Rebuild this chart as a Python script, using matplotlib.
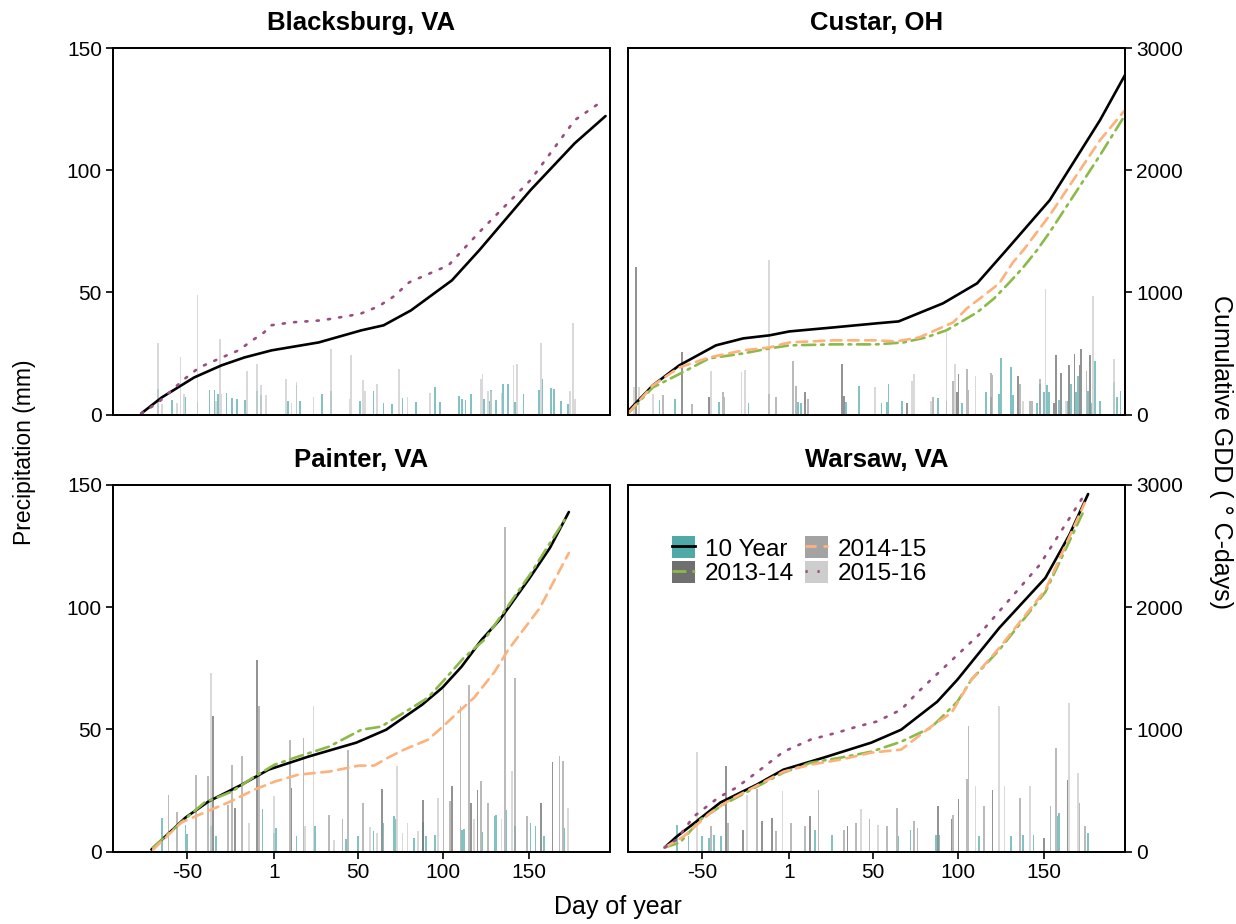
import matplotlib
matplotlib.use("Agg")
import matplotlib.pyplot as plt
from matplotlib.patches import Patch
from matplotlib.lines import Line2D

plt.rcParams['font.family'] = ['Liberation Sans', 'DejaVu Sans']
plt.rcParams['axes.unicode_minus'] = False

# ---------------- data ----------------
series_names = ["10 Year", "2013-14", "2014-15", "2015-16"]
bar_colors = {"10 Year": "#4fa9a8", "2013-14": "#6f6f6f", "2014-15": "#a3a3a3", "2015-16": "#cdcdcd"}
line_colors = {"10 Year": "#000000", "2013-14": "#8bba48", "2014-15": "#fdb27c", "2015-16": "#9a4d80"}
line_styles = {"10 Year": "-", "2013-14": (0, (5, 2.2, 1, 2.2)), "2014-15": (0, (4, 2.5)), "2015-16": (0, (0.8, 3.5))}

x_ticks = [-50, 1, 50, 100, 150]
precip_ticks = [0, 50, 100, 150]
gdd_ticks = [0, 1000, 2000, 3000]

# Blacksburg, VA  - cumulative GDD
bb_10yr_day = [-77, -65, -46, -30, -16.5, -0.6, 27, 52, 65, 81, 105, 121, 151, 177, 195]
bb_10yr_gdd = [8, 139, 303, 402, 467, 525, 590, 689, 730, 852, 1098, 1344, 1836, 2221, 2443]
bb_1516_day = [-77, -67, -52, -43, -31, -20, -11, -5, -1, 11, 29, 46, 52, 62, 71, 80, 103, 121, 151, 177, 194]
bb_1516_gdd = [8, 98, 287, 385, 459, 525, 615, 672, 730, 754, 771, 811, 828, 885, 967, 1082, 1221, 1492, 1918, 2410, 2574]
# Blacksburg precipitation
bb_p10_day = [-67, -59, -51, -44, -37, -34, -32, -27, -24, -21, -16, -9, -7, 9, 14, 16, 29, 34, 51, 59,
              65, 70, 76, 84, 95, 98, 109, 111, 113, 116, 124, 127, 128, 131, 135, 138, 142, 147, 156, 158,
              163, 165, 169, 173]
bb_p10_mm = [10.5, 6.1, 7.1, 5.0, 10.2, 10.2, 8.5, 8.7, 6.8, 6.4, 6.1, 9.8, 7.8, 5.5, 11.9, 5.5, 8.2, 9.8, 5.5, 9.8,
             4.6, 4.4, 6.8, 5.0, 11.2, 5.0, 7.5, 6.4, 6.1, 8.5, 6.4, 5.5, 10.2, 6.0, 12.3, 12.3, 5.0, 8.5, 10.2, 14.6,
             10.9, 10.5, 5.7, 4.4]
bb_p1516_day = [-67, -65, -56, -54, -52, -44, -33, -31, -30, -15, -9, -7, -4, 8, 11, 14, 24, 34, 46, 45,
                53, 54, 61, 74, 79, 92, 122, 123, 126, 128, 134, 141, 143, 157, 174, 176, 177]
bb_p1516_mm = [29.2, 4.4, 4.6, 23.5, 8.5, 48.8, 5.7, 31.0, 8.5, 18.0, 20.8, 11.9, 7.8, 14.6, 4.6, 13.2, 7.1, 26.9, 24.2, 6.4,
               14.2, 9.8, 12.6, 18.7, 7.1, 8.7, 14.6, 16.7, 9.8, 9.8, 8.7, 20.1, 20.8, 29.2, 9.6, 37.4, 6.4]

# Custar, OH - cumulative GDD
cu_10yr_day = [-93, -79, -63.5, -42, -26, -10.6, 1, 27, 52, 65, 91, 111, 128, 153.5, 183, 197.6]
cu_10yr_gdd = [33, 238, 402, 566, 623, 648, 680, 713, 746, 762, 910, 1074, 1344, 1754, 2410, 2779]
cu_1314_day = [-93, -79, -65, -46, -26, -10.6, 1, 27, 52, 68, 81, 93, 101, 111, 121, 130, 138, 146, 153.5, 183, 197.6]
cu_1314_gdd = [16, 221, 320, 459, 500, 541, 566, 574, 574, 590, 631, 689, 754, 836, 951, 1082, 1205, 1344, 1492, 2123, 2451]
cu_1415_day = [-93, -79, -63.5, -46, -26, -10.6, 1, 27, 52, 63.5, 77, 85, 97, 105, 115, 124, 132, 138, 153.5, 183, 197.6]
cu_1415_gdd = [16, 238, 385, 467, 525, 549, 590, 607, 607, 598, 631, 680, 754, 869, 975, 1074, 1246, 1344, 1631, 2246, 2492]
# Custar precipitation
cu_p10_day = [-75, -66, -40, -23, 6, 8, 34, 42, 55, 58, 59, 67, 88, 102, 116, 119, 124, 125, 131, 132,
              146, 148, 150, 152, 153, 159, 164, 166, 169, 170, 176, 178, 180, 183, 191, 193, 195]
cu_p10_mm = [6.0, 6.4, 5.0, 4.6, 5.0, 4.6, 5.0, 11.5, 4.6, 5.0, 12.3, 5.5, 6.8, 4.6, 9.1, 7.1, 8.2, 23.2, 19.4, 7.8,
             4.6, 12.6, 9.1, 11.9, 9.1, 6.0, 5.5, 12.6, 9.1, 15.6, 9.8, 4.6, 22.1, 5.5, 13.2, 7.1, 9.8]
cu_p1314_day = [-89, -62, -46, -11, 10, 32, 33, 70, 93, 99, 100, 135, 156, 157, 160, 165, 168, 171, 172, 177]
cu_p1314_mm = [60.4, 25.5, 7.1, 8.2, 9.1, 20.8, 7.4, 4.6, 5.7, 9.1, 16.4, 15.6, 4.6, 24.2, 16.9, 20.1, 24.9, 20.1, 26.9, 24.2]
cu_p1415_day = [-73, -56, -38, -37, -7, 3, 5, 12, 85, 97, 105, 106, 119, 120, 136, 142, 143, 148, 175]
cu_p1415_mm = [7.8, 4.4, 9.1, 7.1, 7.1, 22.1, 11.5, 6.4, 7.1, 13.6, 18.7, 10.1, 16.9, 16.0, 12.6, 5.7, 5.5, 14.6, 18.0]
cu_p1516_day = [-90, -87, -79, -45, -27, -25, -11, 51, 73, 74, 84, 93, 98, 110, 138, 151, 163, 179, 191]
cu_p1516_mm = [11.2, 11.2, 8.5, 18.0, 17.3, 18.3, 63.4, 11.2, 13.9, 16.4, 5.5, 33.7, 20.5, 15.6, 5.5, 51.5, 5.7, 48.4, 22.8]

# Painter, VA - cumulative GDD
pa_10yr_day = [-71, -51, -37.6, -18, -2.4, 21, 49, 66.5, 87.6, 99.4, 110.6, 122.4, 133, 150.6, 162.4, 173.5]
pa_10yr_gdd = [16, 278, 409, 548, 670, 777, 891, 997, 1202, 1341, 1512, 1733, 1896, 2240, 2485, 2779]
pa_1314_day = [-70, -55, -40, -24, -10.6, 1.2, 15, 33, 52, 63.5, 75, 91, 100.6, 112, 124, 150.6, 171]
pa_1314_gdd = [33, 221, 400, 490, 613, 711, 777, 858, 997, 1022, 1120, 1259, 1406, 1586, 1733, 2264, 2714]
pa_1415_day = [-70, -53.5, -40, -26, -10.6, 1.2, 15, 33, 50.6, 59.4, 67.6, 77, 91, 99, 109, 118, 130, 138, 156.5, 173.5]
pa_1415_gdd = [16, 237, 319, 401, 507, 572, 629, 654, 703, 703, 768, 834, 915, 1014, 1144, 1259, 1471, 1651, 1994, 2444]
# Painter precipitation
pa_p10_day = [-65, -51, -50, -36, -33, -6, 1, 2, 14, 25, 43, 50, 59, 65, 71, 72, 83, 88, 90, 95,
              111, 112, 123, 130, 131, 137, 142, 151, 154, 159, 171]
pa_p10_mm = [13.8, 11.0, 7.0, 10.3, 6.3, 17.2, 7.6, 9.7, 6.3, 10.3, 5.2, 6.3, 8.3, 11.7, 14.4, 13.1, 5.6, 12.0, 6.3, 6.9,
             9.0, 9.3, 7.9, 14.4, 15.1, 16.9, 10.3, 11.7, 10.3, 6.3, 9.7]
pa_p1314_day = [-35, -22, -9, 11, 64, 88, 105, 116, 120, 157, 164]
pa_p1314_mm = [55.3, 17.9, 78.5, 26.0, 25.6, 21.0, 27.0, 19.9, 25.3, 19.9, 36.5]
pa_p1415_day = [-61, -56, -45, -38, -26, -24, -18, -8, 10, 18, 33, 41, 44, 53, 100, 104, 110, 115, 122, 126,
                136, 142, 149, 168, 170]
pa_p1415_mm = [23.3, 16.1, 31.5, 30.8, 19.2, 35.6, 38.9, 59.4, 45.8, 46.5, 15.1, 13.1, 41.7, 19.9, 66.5, 20.8, 59.4, 68.2, 28.7, 19.9,
               132.8, 71.0, 14.7, 38.9, 36.9]
pa_p1516_day = [-36, -14, 1, 19, 24, 36, 57, 61, 73, 76, 79, 85, 97, 118, 134, 140, 173]
pa_p1516_mm = [73.0, 11.7, 22.6, 10.3, 59.7, 4.9, 10.1, 7.6, 34.9, 7.4, 11.7, 8.3, 21.9, 13.1, 13.1, 32.8, 17.9]

# Warsaw, VA - cumulative GDD
wa_10yr_day = [-72, -65, -53.5, -39.4, -18, -2.4, 21, 49, 66.5, 87.6, 99.4, 124, 151, 165, 176]
wa_10yr_gdd = [33, 122, 245, 401, 548, 670, 768, 891, 997, 1226, 1406, 1831, 2240, 2591, 2926]
wa_1314_day = [-72, -63, -51, -37.6, -18, -2.4, 13.5, 31, 49, 66.5, 84, 99.4, 107.6, 124, 151, 174]
wa_1314_gdd = [33, 74, 262, 384, 531, 646, 727, 768, 817, 899, 1014, 1226, 1406, 1651, 2125, 2804]
wa_1415_day = [-72, -61, -45, -33.5, -18, -2.4, 13.5, 31, 49, 66.5, 84, 96, 107.6, 124, 151, 174]
wa_1415_gdd = [33, 123, 319, 425, 539, 654, 711, 752, 809, 834, 1022, 1136, 1406, 1667, 2142, 2853]
wa_1516_day = [-72, -65, -55, -40.6, -30, -16, -7, -2.4, 13.5, 29, 40.6, 52, 66.5, 76, 84, 112, 147.6, 173]
wa_1516_gdd = [33, 98, 286, 441, 523, 670, 768, 817, 916, 973, 1022, 1063, 1161, 1300, 1406, 1774, 2346, 2902]
# Warsaw precipitation
wa_p10_day = [-65, -58, -50, -46, -43, -39, 16, 26, 65, 72, 87, 89, 112, 131, 138, 144, 158, 159, 176]
wa_p10_mm = [11.0, 6.3, 6.5, 5.6, 6.9, 6.3, 9.0, 6.9, 6.3, 9.0, 6.9, 6.9, 6.3, 6.3, 6.9, 6.9, 14.4, 15.8, 7.6]
wa_p1314_day = [-36, -26, -15, -9, 13, 35, 88, 96, 100, 120, 150, 164]
wa_p1314_mm = [35.1, 9.0, 12.4, 13.8, 14.4, 10.3, 18.8, 13.1, 21.3, 25.1, 5.6, 29.4]
wa_p1415_day = [-45, -35, -18, -7, 2, 10, 18, 33, 40, 48, 58, 64, 74, 76, 97, 105, 106, 115, 136, 154,
                157, 171, 174]
wa_p1415_mm = [10.3, 11.7, 25.6, 8.3, 11.7, 10.3, 25.3, 9.0, 11.7, 13.1, 10.3, 17.9, 12.4, 9.7, 15.1, 29.7, 51.2, 18.5, 21.9, 18.5,
               42.4, 19.9, 10.3]
wa_p1516_day = [-53, -24, -3, 43, 53, 110, 124, 127, 142, 165, 170]
wa_p1516_mm = [40.6, 23.3, 24.6, 17.2, 11.0, 27.0, 59.4, 26.7, 26.7, 60.8, 32.2]

panels = [
    ("Blacksburg, VA",
     {"10 Year": (bb_p10_day, bb_p10_mm), "2015-16": (bb_p1516_day, bb_p1516_mm)},
     {"10 Year": (bb_10yr_day, bb_10yr_gdd), "2015-16": (bb_1516_day, bb_1516_gdd)}),
    ("Custar, OH",
     {"10 Year": (cu_p10_day, cu_p10_mm), "2013-14": (cu_p1314_day, cu_p1314_mm),
      "2014-15": (cu_p1415_day, cu_p1415_mm), "2015-16": (cu_p1516_day, cu_p1516_mm)},
     {"10 Year": (cu_10yr_day, cu_10yr_gdd), "2013-14": (cu_1314_day, cu_1314_gdd),
      "2014-15": (cu_1415_day, cu_1415_gdd)}),
    ("Painter, VA",
     {"10 Year": (pa_p10_day, pa_p10_mm), "2013-14": (pa_p1314_day, pa_p1314_mm),
      "2014-15": (pa_p1415_day, pa_p1415_mm), "2015-16": (pa_p1516_day, pa_p1516_mm)},
     {"10 Year": (pa_10yr_day, pa_10yr_gdd), "2013-14": (pa_1314_day, pa_1314_gdd),
      "2014-15": (pa_1415_day, pa_1415_gdd)}),
    ("Warsaw, VA",
     {"10 Year": (wa_p10_day, wa_p10_mm), "2013-14": (wa_p1314_day, wa_p1314_mm),
      "2014-15": (wa_p1415_day, wa_p1415_mm), "2015-16": (wa_p1516_day, wa_p1516_mm)},
     {"10 Year": (wa_10yr_day, wa_10yr_gdd), "2013-14": (wa_1314_day, wa_1314_gdd),
      "2014-15": (wa_1415_day, wa_1415_gdd), "2015-16": (wa_1516_day, wa_1516_gdd)}),
]

# ---------------- figure ----------------
W, H = 1236, 924
fig = plt.figure(figsize=(W / 100, H / 100), dpi=100)

boxes = [(113, 48), (628, 48), (113, 485), (628, 485)]
pw, ph = 497, 366.5
xlim = (-93.5, 197.6)
tick_fs = 15

for i, (title, bars, lines) in enumerate(panels):
    px, py = boxes[i]
    ax = fig.add_axes([px / W, 1 - (py + ph) / H, pw / W, ph / H])
    ax2 = ax.twinx()
    for name in series_names:
        if name in bars:
            d, v = bars[name]
            ax.bar(d, v, width=1.0, color=bar_colors[name], alpha=0.7 if name == "10 Year" else 0.75,
                   linewidth=0, zorder=2)
    for name in series_names:
        if name in lines:
            d, g = lines[name]
            ax2.plot(d, g, color=line_colors[name], linestyle=line_styles[name],
                     lw=1.9, dash_capstyle='round', solid_capstyle='round')
    ax.set_xlim(*xlim)
    ax.set_ylim(0, 150)
    ax2.set_ylim(0, 3000)
    ax.set_xticks(x_ticks)
    ax.set_yticks(precip_ticks)
    ax2.set_yticks(gdd_ticks)
    for a in (ax, ax2):
        for s in a.spines.values():
            s.set_linewidth(1.3)
            s.set_color("black")
        a.tick_params(direction='out', length=5, width=1.2, labelsize=tick_fs, colors='black', pad=3)
    left_col = (i % 2 == 0)
    bottom_row = (i >= 2)
    if left_col:
        ax2.tick_params(axis='y', right=False, labelright=False)
    else:
        ax.tick_params(axis='y', left=False, labelleft=False)
    if not bottom_row:
        ax.tick_params(axis='x', bottom=False, labelbottom=False)
    ax.set_title(title, fontsize=18.5, fontweight='bold', pad=13)

    if i == 3:
        handles = []
        for name in series_names:
            handles.append((Patch(facecolor=bar_colors[name], edgecolor='none'),
                            Line2D([0], [0], color=line_colors[name], linestyle=line_styles[name], lw=2)))
        ax.legend(handles, series_names, ncol=2, loc='upper left', bbox_to_anchor=(0.064, 0.893),
                  frameon=False, fontsize=17.5, handlelength=0.95, handleheight=1.0,
                  handletextpad=0.4, columnspacing=0.45, labelspacing=0.02, borderpad=0)

fig.text(25 / W, 1 - 452 / H, "Precipitation (mm)", rotation=90, va='center', ha='center', fontsize=16.5)
fig.text(1221 / W, 1 - 452 / H, "Cumulative GDD ( \u00b0 C-days)", rotation=270, va='center', ha='center', fontsize=18)
fig.text(618 / W, 1 - 907 / H, "Day of year", va='center', ha='center', fontsize=18)

fig.savefig("out.png", dpi=100)
